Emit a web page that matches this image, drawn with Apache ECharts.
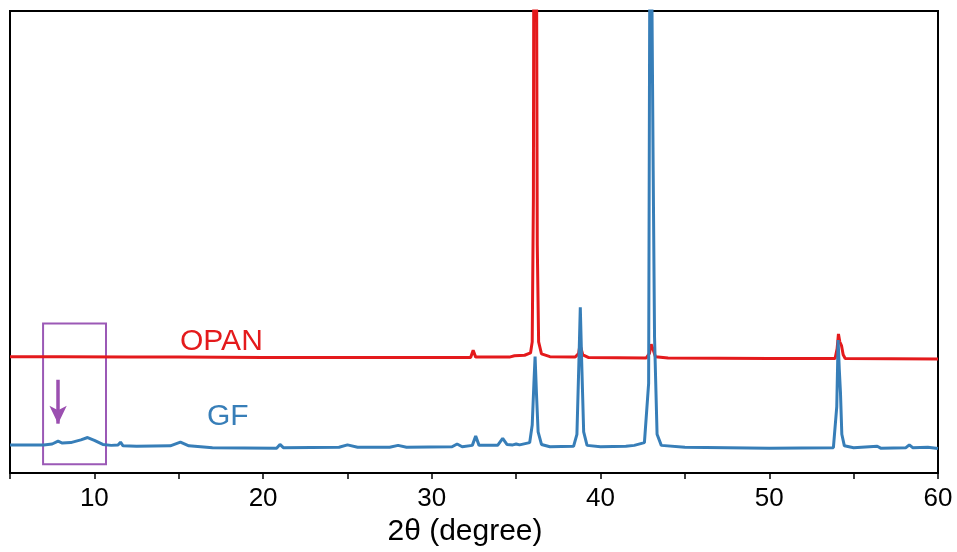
<!DOCTYPE html>
<html>
<head>
<meta charset="utf-8">
<script src="https://cdn.jsdelivr.net/npm/echarts@6/dist/echarts.min.js"></script>
<style>
  html, body { margin: 0; padding: 0; background: #fff; }
  #chart { width: 957px; height: 552px; }
</style>
</head>
<body>
<div id="chart"></div>
<script>
// OPAN pattern (2θ, arbitrary intensity)
const opanTheta = [5.0, 8.0, 12, 15, 20, 25, 30, 32.3, 32.45, 32.6, 34.6, 34.9, 35.5, 35.85, 35.95, 36.02, 36.05, 36.1, 36.15, 36.2, 36.25, 36.33, 36.5, 37, 38.5, 38.7, 38.78, 38.85, 38.95, 39.3, 42.7, 42.9, 43.0, 43.1, 43.25, 44, 50, 53.9, 54.02, 54.1, 54.18, 54.28, 54.38, 54.5, 60]
const opanIntensity = [258, 258, 257, 257, 256, 256, 256, 256, 272, 257, 257, 260, 261, 266, 290, 600, 1300, 1500, 1400, 1200, 500, 290, 264, 258, 257, 265, 283, 275, 262, 256, 255, 265, 285, 275, 258, 255, 254, 254, 275, 307, 290, 282, 262, 254, 253]

// GF pattern
const gfTheta = [5.0, 6.0, 7.0, 7.5, 7.85, 8.1, 8.6, 9.2, 9.6, 10.0, 10.5, 11.0, 11.4, 11.55, 11.7, 12.5, 14.5, 15.1, 15.6, 17, 20.8, 21.0, 21.2, 24.5, 25.0, 25.6, 27.5, 28.0, 28.5, 31.2, 31.5, 31.8, 32.4, 32.6, 32.8, 33.9, 34.2, 34.45, 34.8, 35.0, 35.2, 35.8, 35.95, 36.05, 36.12, 36.2, 36.3, 36.5, 37.0, 38.4, 38.6, 38.72, 38.8, 38.88, 39.0, 39.2, 40, 41.5, 42.0, 42.6, 42.85, 42.95, 43.05, 43.12, 43.2, 43.35, 43.6, 45, 50, 53.8, 54.0, 54.08, 54.15, 54.22, 54.3, 54.45, 55, 56.4, 56.6, 58.1, 58.3, 58.5, 59.4, 60]
const gfIntensity = [67, 67, 67, 69, 75, 71, 72, 78, 83, 77, 68, 66, 67, 73, 65, 64, 65, 73, 65, 61, 60, 68, 61, 62, 67, 62, 62, 66, 62, 63, 69, 63, 66, 86, 66, 66, 81, 68, 67, 69, 67, 72, 110, 200, 258, 180, 95, 68, 63, 64, 90, 250, 365, 250, 95, 66, 63, 64, 66, 72, 200, 1500, 1500, 659, 300, 90, 66, 62, 60, 61, 150, 294, 230, 180, 90, 65, 61, 64, 60, 61, 67, 61, 62, 59]

const xTicks = [10, 20, 30, 40, 50, 60]

// boxed region and arrow (2θ / intensity)
const boxTheta = [6.96, 10.69]
const boxIntensity = [25, 330]
const arrowTheta = 7.85
const arrowIntensity = [208, 113]

const zip = (xs, ys) => xs.map((x, i) => [x, ys[i]])

const chart = echarts.init(document.getElementById('chart'))

chart.setOption({
  animation: false,
  grid: {
    left: 10,
    right: 19,
    top: 11,
    bottom: 75,
    show: true,
    borderColor: '#000',
    borderWidth: 2
  },
  xAxis: {
    type: 'value',
    min: 5,
    max: 60,
    interval: 5,
    name: '2θ (degree)',
    nameLocation: 'middle',
    nameGap: 37,
    nameTextStyle: {
      fontFamily: 'Liberation Sans',
      fontSize: 30,
      color: '#000',
      padding: [0, 18, 0, 0]
    },
    axisLine: { onZero: false, lineStyle: { color: '#000', width: 2 } },
    axisTick: { length: 6, lineStyle: { color: '#000', width: 1.5 } },
    splitLine: { show: false },
    axisLabel: {
      fontFamily: 'Liberation Sans',
      fontSize: 26,
      color: '#000',
      margin: 13,
      formatter: v => (xTicks.indexOf(v) >= 0 ? String(v) : '')
    }
  },
  yAxis: {
    type: 'value',
    min: 6,
    max: 1006,
    show: false
  },
  graphic: [
    {
      type: 'text',
      left: 180,
      top: 327,
      style: {
        text: 'OPAN',
        font: '30px "Liberation Sans"',
        fill: '#e41a1c'
      }
    },
    {
      type: 'text',
      left: 207,
      top: 402,
      style: {
        text: 'GF',
        font: '30px "Liberation Sans"',
        fill: '#377eb8'
      }
    }
  ],
  series: [
    {
      name: 'OPAN',
      type: 'line',
      data: zip(opanTheta, opanIntensity),
      showSymbol: false,
      clip: true,
      lineStyle: { color: '#e41a1c', width: 3 },
      z: 2
    },
    {
      name: 'GF',
      type: 'line',
      data: zip(gfTheta, gfIntensity),
      showSymbol: false,
      clip: true,
      lineStyle: { color: '#377eb8', width: 3 },
      z: 3,
      markArea: {
        silent: true,
        itemStyle: { color: 'rgba(0,0,0,0)', borderColor: '#9b59b6', borderWidth: 2 },
        data: [[
          { coord: [boxTheta[0], boxIntensity[1]] },
          { coord: [boxTheta[1], boxIntensity[0]] }
        ]]
      },
      markLine: {
        silent: true,
        symbol: ['none', 'arrow'],
        symbolSize: [13, 18],
        label: { show: false },
        lineStyle: { color: '#9b4fb0', width: 3.5, type: 'solid' },
        data: [[
          { coord: [arrowTheta, arrowIntensity[0]] },
          { coord: [arrowTheta, arrowIntensity[1]] }
        ]]
      }
    }
  ]
})
</script>
</body>
</html>
